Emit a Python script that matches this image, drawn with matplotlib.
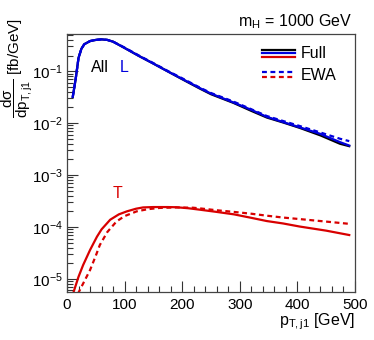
import matplotlib
matplotlib.use("Agg")
import matplotlib.pyplot as plt
from matplotlib.ticker import LogLocator, MultipleLocator, LogFormatterMathtext, NullFormatter

plt.rcParams['font.family'] = ['Liberation Sans', 'DejaVu Sans']
plt.rcParams['mathtext.fontset'] = 'custom'
plt.rcParams['mathtext.rm'] = 'Liberation Sans'
plt.rcParams['mathtext.it'] = 'Liberation Sans'
plt.rcParams['mathtext.sf'] = 'Liberation Sans'
plt.rcParams['mathtext.bf'] = 'Liberation Sans:bold'

# ---- data ----
x_L = [10, 15, 20, 25, 30, 40, 50, 60, 70, 80, 100, 125, 150, 175, 200, 231, 250, 289, 320, 347, 375, 404, 440, 474, 490]
L_full = [0.032, 0.07, 0.18, 0.27, 0.33, 0.38, 0.40, 0.41, 0.40, 0.37, 0.28, 0.196, 0.14, 0.099, 0.071, 0.047, 0.037, 0.025, 0.018, 0.0132, 0.0105, 0.0083, 0.0062, 0.0043, 0.0037]
All_full = [0.032, 0.07, 0.18, 0.27, 0.33, 0.38, 0.40, 0.41, 0.40, 0.37, 0.28, 0.196, 0.14, 0.099, 0.070, 0.046, 0.036, 0.0245, 0.0172, 0.0128, 0.0103, 0.0081, 0.0058, 0.0040, 0.0036]
L_ewa = [0.032, 0.07, 0.18, 0.27, 0.33, 0.38, 0.40, 0.41, 0.40, 0.37, 0.285, 0.20, 0.143, 0.101, 0.073, 0.048, 0.038, 0.026, 0.0185, 0.0137, 0.011, 0.0088, 0.0066, 0.0050, 0.0045]

x_T = [10, 20, 28, 40, 52, 60, 75, 90, 104, 120, 132, 150, 175, 190, 210, 231, 260, 290, 320, 347, 375, 404, 450, 490]
T_full = [5.0e-6, 1.1e-5, 1.85e-5, 3.6e-5, 6.5e-5, 9.0e-5, 1.38e-4, 1.75e-4, 2.0e-4, 2.25e-4, 2.38e-4, 2.42e-4, 2.42e-4, 2.4e-4, 2.3e-4, 2.15e-4, 1.95e-4, 1.75e-4, 1.5e-4, 1.3e-4, 1.17e-4, 1.02e-4, 8.5e-5, 7.0e-5]

x_Te = [19, 30, 40, 50, 57, 70, 86, 100, 121, 140, 161, 190, 219, 231, 260, 290, 320, 347, 375, 404, 450, 490]
T_ewa = [5.2e-6, 9.0e-6, 1.48e-5, 2.8e-5, 4.5e-5, 8.0e-5, 1.28e-4, 1.62e-4, 2.0e-4, 2.2e-4, 2.33e-4, 2.38e-4, 2.35e-4, 2.28e-4, 2.1e-4, 1.95e-4, 1.8e-4, 1.65e-4, 1.52e-4, 1.42e-4, 1.27e-4, 1.15e-4]

xticks = [0, 100, 200, 300, 400, 500]

BLUE = '#0000dd'
RED = '#d80000'
dash = (0, (2.2, 1.6))

fig = plt.figure(figsize=(3.74, 3.40), dpi=100)
ax = fig.add_axes([67/374, 1-292/340, 288/374, 258/340])

ax.plot(x_L, All_full, color='black', lw=1.6)
ax.plot(x_L, L_full, color=BLUE, lw=1.6)
ax.plot(x_L, L_ewa, color=BLUE, lw=1.6, ls=dash)
ax.plot(x_T, T_full, color=RED, lw=1.6)
ax.plot(x_Te, T_ewa, color=RED, lw=1.6, ls=dash)

ax.set_yscale('log')
ax.set_xlim(0, 500)
ax.set_ylim(5.6e-6, 0.52)
ax.set_xticks(xticks)
ax.xaxis.set_minor_locator(MultipleLocator(20))
ax.yaxis.set_major_locator(LogLocator(base=10, numticks=20))
ax.yaxis.set_minor_locator(LogLocator(base=10, subs=range(2, 10), numticks=50))
ax.yaxis.set_major_formatter(LogFormatterMathtext())
ax.yaxis.set_minor_formatter(NullFormatter())
ax.tick_params(which='both', direction='in', top=False, right=False, labelsize=11, color='#333333')
ax.tick_params(which='major', length=8, width=0.8)
ax.tick_params(which='minor', length=4, width=0.8)
ax.tick_params(axis='x', pad=4)
ax.tick_params(axis='y', pad=3)
for s in ax.spines.values():
    s.set_color('#444444')
    s.set_linewidth(0.9)

# legend drawn by hand
def px(xp, yp):
    return ((xp - 67) / 288, (292 - yp) / 258)

for yp, c in [(49.5, 'black'), (53, BLUE), (56.5, RED)]:
    (x0, y0), (x1, _) = px(262, yp), px(295, yp)
    ax.plot([x0, x1], [y0, y0], transform=ax.transAxes, color=c, lw=1.6)
for yp, c in [(71.5, BLUE), (76.5, RED)]:
    (x0, y0), (x1, _) = px(262, yp), px(295, yp)
    ax.plot([x0, x1], [y0, y0], transform=ax.transAxes, color=c, lw=1.6, ls=dash)
tx, ty = px(301, 53)
ax.text(tx, ty, 'Full', transform=ax.transAxes, fontsize=11.5, va='center', ha='left')
tx, ty = px(301, 75)
ax.text(tx, ty, 'EWA', transform=ax.transAxes, fontsize=11.5, va='center', ha='left')

tx, ty = px(100, 67)
ax.text(tx, ty, 'All', transform=ax.transAxes, fontsize=11.5, va='center', ha='center', color='black')
tx, ty = px(124, 67)
ax.text(tx, ty, 'L', transform=ax.transAxes, fontsize=11.5, va='center', ha='center', color=BLUE)
tx, ty = px(117.5, 194)
ax.text(tx, ty, 'T', transform=ax.transAxes, fontsize=11.5, va='center', ha='center', color=RED)

fig.text(352/374, 1-26/340, r'm$_{\mathrm{H}}$ = 1000 GeV', fontsize=11.5, ha='right', va='baseline')
fig.text(355/374, 1-325/340, r'p$_{\mathrm{T,j1}}$ [GeV]', fontsize=11.5, ha='right', va='baseline')
fig.text(17/374, 1-18/340, r'$\dfrac{\mathrm{d}\sigma}{\mathrm{dp}_{\mathrm{T,j1}}}$ [fb/GeV]',
         fontsize=11, rotation=90, ha='center', va='top')

fig.savefig('out.png', dpi=100)
